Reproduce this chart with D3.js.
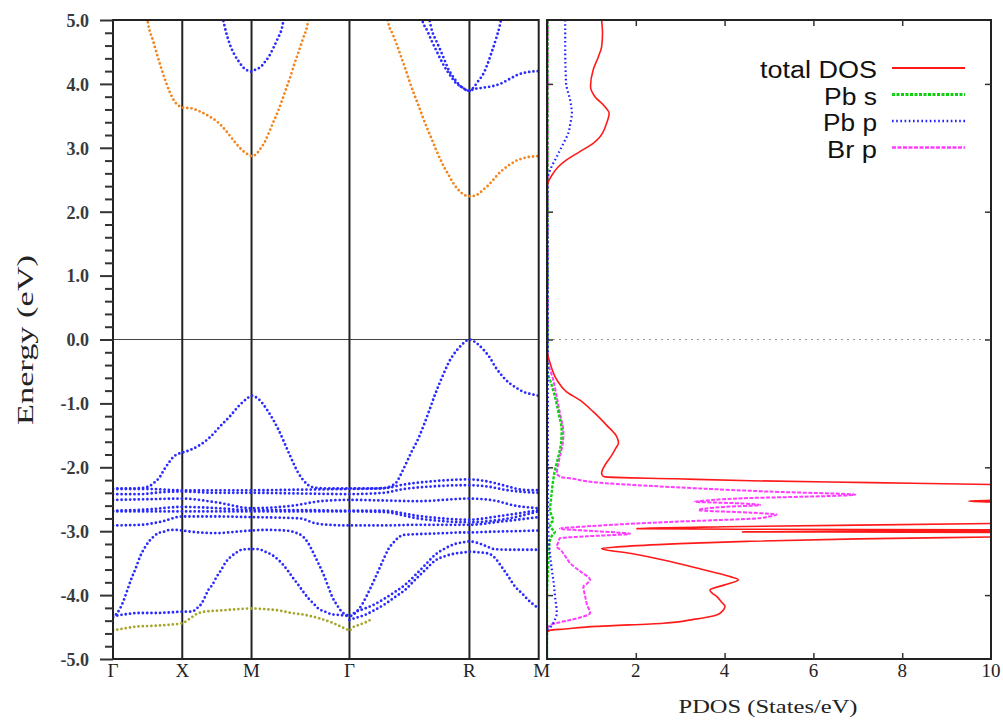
<!DOCTYPE html>
<html><head><meta charset="utf-8">
<script src="https://cdn.jsdelivr.net/npm/d3@7"></script>
<style>body{margin:0;background:#fff}svg{display:block}</style>
</head><body>
<svg id="chart" width="1003" height="720"></svg>
<script>
// ---------- data ----------
const kLabels = ["Γ","X","M","Γ","R","M"];
const kTicks = [0, 0.5, 1.0, 1.707, 2.573, 3.073];
const energyTicks = [5,4,3,2,1,0,-1,-2,-3,-4,-5];
const dosTicks = [2,4,6,8,10];
const legendNames = ["total DOS","Pb s","Pb p","Br p"];

// conduction bands [k, E]
const cbOrangeA = [[0.23,5.3],[0.255,4.92],[0.287,4.69],[0.318,4.46],[0.349,4.24],[0.38,4.04],[0.412,3.86],[0.443,3.73],[0.474,3.66],[0.5,3.63],[0.56,3.62],[0.626,3.57],[0.688,3.5],[0.751,3.41],[0.814,3.27],[0.876,3.1],[0.939,2.95],[0.97,2.9],[1.0,2.87],[1.038,2.91],[1.069,3.0],[1.1,3.11],[1.128,3.25],[1.157,3.4],[1.189,3.56],[1.218,3.73],[1.249,3.92],[1.28,4.11],[1.309,4.31],[1.341,4.51],[1.372,4.71],[1.401,4.9],[1.43,5.3]];
const cbOrangeB = [[1.96,5.4],[1.988,4.95],[2.019,4.78],[2.051,4.6],[2.082,4.41],[2.113,4.22],[2.142,4.03],[2.173,3.84],[2.204,3.67],[2.236,3.48],[2.267,3.31],[2.298,3.15],[2.33,2.98],[2.361,2.83],[2.392,2.69],[2.424,2.57],[2.455,2.45],[2.486,2.36],[2.518,2.29],[2.549,2.25],[2.573,2.24],[2.609,2.25],[2.64,2.28],[2.671,2.34],[2.703,2.4],[2.734,2.47],[2.765,2.55],[2.796,2.62],[2.828,2.68],[2.859,2.73],[2.89,2.77],[2.922,2.81],[2.953,2.83],[2.984,2.85],[3.016,2.86],[3.073,2.87]];
const cbBlueM = [[0.79,5.05],[0.816,4.81],[0.845,4.61],[0.876,4.46],[0.908,4.35],[0.939,4.26],[0.97,4.21],[1.0,4.19],[1.033,4.23],[1.064,4.26],[1.095,4.34],[1.126,4.43],[1.157,4.56],[1.189,4.71],[1.22,4.88],[1.235,5.05]];
const cbBlueR1 = [[2.22,5.1],[2.233,4.99],[2.269,4.83],[2.301,4.67],[2.332,4.53],[2.361,4.4],[2.39,4.28],[2.419,4.18],[2.448,4.09],[2.476,4.01],[2.513,3.96],[2.542,3.91],[2.573,3.89],[2.605,3.95],[2.638,4.05],[2.669,4.14],[2.7,4.29],[2.731,4.48],[2.763,4.69],[2.794,4.93],[2.81,5.1]];
const cbBlueR2 = [[2.28,5.05],[2.303,4.83],[2.334,4.67],[2.363,4.53],[2.392,4.38],[2.421,4.23],[2.453,4.12],[2.482,4.03],[2.51,3.96],[2.549,3.91],[2.573,3.89],[2.605,3.92],[2.638,3.93],[2.669,3.94],[2.731,3.96],[2.794,4.0],[2.857,4.07],[2.919,4.14],[2.982,4.18],[3.073,4.2]];

// valence bands [k, E]
const vbTop = [[0,-2.33],[0.15,-2.33],[0.22,-2.32],[0.267,-2.29],[0.303,-2.23],[0.339,-2.15],[0.368,-2.04],[0.399,-1.94],[0.435,-1.84],[0.471,-1.79],[0.5,-1.77],[0.556,-1.73],[0.628,-1.65],[0.7,-1.53],[0.773,-1.36],[0.845,-1.2],[0.917,-1.02],[0.97,-0.92],[1.0,-0.88],[1.049,-0.93],[1.121,-1.13],[1.194,-1.41],[1.266,-1.76],[1.338,-2.09],[1.41,-2.28],[1.46,-2.32],[1.55,-2.33],[1.707,-2.33],[1.9,-2.33],[1.97,-2.32],[2.012,-2.29],[2.048,-2.23],[2.085,-2.08],[2.12,-1.92],[2.157,-1.75],[2.204,-1.55],[2.24,-1.36],[2.28,-1.13],[2.325,-0.86],[2.36,-0.67],[2.39,-0.52],[2.421,-0.37],[2.457,-0.24],[2.493,-0.14],[2.529,-0.06],[2.573,0.0],[2.626,-0.06],[2.674,-0.16],[2.722,-0.29],[2.76,-0.43],[2.794,-0.53],[2.83,-0.62],[2.866,-0.69],[2.914,-0.76],[2.962,-0.82],[3.01,-0.85],[3.073,-0.88]];
const vbM1 = [[0,-2.34],[0.25,-2.34],[0.5,-2.36],[0.75,-2.36],[1.0,-2.36],[1.35,-2.35],[1.707,-2.34],[1.95,-2.33],[2.1,-2.27],[2.3,-2.22],[2.573,-2.19],[2.7,-2.22],[2.85,-2.3],[2.95,-2.35],[3.073,-2.36]];
const vbM2 = [[0,-2.42],[0.2,-2.42],[0.35,-2.39],[0.5,-2.38],[0.75,-2.4],[1.0,-2.4],[1.35,-2.41],[1.707,-2.42],[1.95,-2.4],[2.1,-2.34],[2.3,-2.3],[2.573,-2.28],[2.7,-2.3],[2.85,-2.36],[3.073,-2.4]];
const vbM3 = [[0,-2.51],[0.25,-2.5],[0.5,-2.49],[0.75,-2.55],[1.0,-2.64],[1.3,-2.6],[1.5,-2.53],[1.707,-2.51],[1.95,-2.52],[2.2,-2.53],[2.573,-2.49],[2.75,-2.52],[2.9,-2.6],[3.073,-2.64]];
const vbM4 = [[0,-2.68],[0.25,-2.66],[0.5,-2.62],[0.75,-2.64],[1.0,-2.67],[1.35,-2.67],[1.707,-2.68],[1.95,-2.68],[2.2,-2.76],[2.573,-2.82],[2.8,-2.76],[3.073,-2.67]];
const vbM5 = [[0,-2.69],[0.25,-2.69],[0.5,-2.69],[0.75,-2.69],[1.0,-2.69],[1.35,-2.69],[1.707,-2.69],[1.95,-2.7],[2.2,-2.8],[2.573,-2.86],[2.8,-2.82],[3.073,-2.69]];
const vbM6 = [[0,-2.91],[0.2,-2.9],[0.35,-2.85],[0.5,-2.77],[0.75,-2.77],[1.0,-2.78],[1.35,-2.8],[1.45,-2.87],[1.55,-2.9],[1.707,-2.91],[1.95,-2.91],[2.2,-2.9],[2.573,-2.9],[2.8,-2.85],[3.073,-2.78]];
const vbLowB = [[0,-4.35],[0.051,-4.21],[0.074,-4.1],[0.099,-3.95],[0.13,-3.76],[0.164,-3.58],[0.195,-3.4],[0.226,-3.27],[0.26,-3.16],[0.291,-3.09],[0.327,-3.03],[0.364,-3.01],[0.412,-2.98],[0.46,-2.98],[0.5,-2.99],[0.62,-3.02],[0.75,-3.03],[0.88,-3.01],[1.0,-2.99],[1.12,-2.98],[1.242,-2.99],[1.314,-3.02],[1.374,-3.09],[1.41,-3.19],[1.435,-3.29],[1.464,-3.42],[1.495,-3.56],[1.526,-3.71],[1.554,-3.87],[1.583,-4.03],[1.615,-4.15],[1.651,-4.26],[1.687,-4.31],[1.707,-4.33],[1.771,-4.23],[1.8,-4.14],[1.832,-4.01],[1.863,-3.87],[1.897,-3.71],[1.928,-3.56],[1.959,-3.41],[1.988,-3.28],[2.024,-3.18],[2.06,-3.1],[2.096,-3.06],[2.157,-3.05],[2.276,-3.04],[2.397,-3.03],[2.518,-3.02],[2.573,-3.02],[2.7,-3.01],[2.9,-3.0],[3.073,-2.99]];
const vbLowC = [[0,-4.33],[0.09,-4.3],[0.18,-4.28],[0.3,-4.28],[0.42,-4.27],[0.5,-4.26],[0.568,-4.26],[0.604,-4.21],[0.64,-4.13],[0.664,-4.03],[0.688,-3.92],[0.717,-3.84],[0.749,-3.71],[0.78,-3.61],[0.809,-3.5],[0.845,-3.41],[0.881,-3.35],[0.929,-3.29],[0.977,-3.28],[1.0,-3.28],[1.049,-3.28],[1.097,-3.32],[1.146,-3.37],[1.194,-3.45],[1.23,-3.53],[1.266,-3.63],[1.302,-3.74],[1.338,-3.84],[1.374,-3.95],[1.41,-4.05],[1.446,-4.13],[1.482,-4.21],[1.531,-4.26],[1.579,-4.3],[1.627,-4.31],[1.675,-4.32],[1.707,-4.33],[1.747,-4.27],[1.819,-4.21],[1.892,-4.14],[1.964,-4.05],[2.036,-3.95],[2.108,-3.84],[2.181,-3.69],[2.253,-3.53],[2.325,-3.37],[2.397,-3.27],[2.469,-3.2],[2.542,-3.17],[2.573,-3.16],[2.626,-3.18],[2.7,-3.24],[2.75,-3.28],[2.85,-3.29],[3.073,-3.29]];
const vbLowE = [[1.707,-4.39],[1.747,-4.36],[1.819,-4.31],[1.892,-4.23],[1.964,-4.14],[2.036,-4.03],[2.108,-3.92],[2.181,-3.76],[2.253,-3.61],[2.325,-3.46],[2.397,-3.39],[2.469,-3.35],[2.542,-3.33],[2.573,-3.32],[2.638,-3.33],[2.71,-3.35],[2.758,-3.42],[2.806,-3.56],[2.854,-3.71],[2.903,-3.87],[2.951,-3.97],[2.999,-4.08],[3.073,-4.21]];
const vbOlive = [[0,-4.55],[0.087,-4.52],[0.183,-4.49],[0.303,-4.48],[0.424,-4.46],[0.5,-4.44],[0.56,-4.36],[0.6,-4.3],[0.66,-4.26],[0.78,-4.24],[0.9,-4.22],[1.0,-4.21],[1.097,-4.22],[1.194,-4.24],[1.29,-4.28],[1.386,-4.31],[1.482,-4.36],[1.579,-4.43],[1.651,-4.5],[1.69,-4.54],[1.707,-4.56],[1.723,-4.52],[1.771,-4.47],[1.819,-4.43],[1.856,-4.39]];

// DOS curves [E, states/eV]
const dosTotal = [[5.0,1.23],[4.79,1.25],[4.58,1.23],[4.43,1.16],[4.22,1.04],[3.96,0.98],[3.8,1.08],[3.64,1.31],[3.54,1.4],[3.38,1.34],[3.17,1.19],[3.07,1.04],[2.94,0.74],[2.81,0.44],[2.7,0.25],[2.57,0.11],[2.47,0.03],[2.39,0.0],[-0.16,0.0],[-0.37,0.07],[-0.63,0.22],[-0.82,0.44],[-0.95,0.74],[-1.13,1.04],[-1.34,1.34],[-1.52,1.57],[-1.62,1.61],[-1.7,1.55],[-1.81,1.46],[-1.96,1.31],[-2.09,1.23],[-2.13,1.25],[-2.15,1.31],[-2.18,2.9],[-2.21,4.6],[-2.24,7.3],[-2.27,10.0],[-2.35,15],[-2.45,15],[-2.51,10.5],[-2.53,9.5],[-2.55,10.5],[-2.7,15],[-2.85,12],[-2.88,10],[-2.93,4.0],[-2.96,2.02],[-2.97,5.0],[-2.98,10],[-2.99,12],[-3.0,8.0],[-3.01,4.4],[-3.015,8.0],[-3.02,10],[-3.05,14],[-3.08,11],[-3.09,10],[-3.12,7.0],[-3.16,4.5],[-3.21,2.5],[-3.25,1.5],[-3.27,1.23],[-3.35,1.9],[-3.45,2.62],[-3.58,3.4],[-3.71,4.12],[-3.76,4.31],[-3.84,4.0],[-3.92,3.67],[-3.97,3.72],[-4.02,3.82],[-4.1,3.92],[-4.18,4.01],[-4.25,3.95],[-4.31,3.82],[-4.38,3.3],[-4.44,2.62],[-4.49,1.12],[-4.53,0.4],[-4.55,0.07],[-4.59,0.0],[-5.0,0.0]];
const dosPbS = [[5.0,0.01],[-0.48,0.01],[-0.7,0.1],[-0.9,0.18],[-1.15,0.26],[-1.42,0.33],[-1.6,0.32],[-1.73,0.29],[-1.9,0.23],[-2.04,0.18],[-2.2,0.14],[-2.36,0.11],[-2.5,0.09],[-2.67,0.07],[-2.75,0.1],[-2.83,0.14],[-2.88,0.08],[-2.93,0.07],[-2.97,0.12],[-3.01,0.18],[-3.06,0.12],[-3.14,0.07],[-3.3,0.04],[-3.5,0.03],[-4.02,0.0],[-5.0,0.0]];
const dosPbP = [[5.0,0.41],[4.95,0.41],[4.53,0.41],[4.01,0.43],[3.75,0.52],[3.54,0.56],[3.4,0.53],[3.23,0.48],[3.07,0.37],[2.86,0.22],[2.65,0.07],[2.5,0.01],[-0.3,0.02],[-2.0,0.02],[-3.0,0.03],[-3.3,0.06],[-3.61,0.11],[-3.8,0.15],[-4.02,0.18],[-4.28,0.22],[-4.38,0.18],[-4.44,0.14],[-4.55,0.03],[-4.6,0.0],[-5.0,0.0]];
const dosBrP = [[5.0,0.02],[-0.32,0.02],[-0.63,0.14],[-0.9,0.22],[-1.15,0.29],[-1.47,0.37],[-1.65,0.35],[-1.83,0.29],[-2.0,0.24],[-2.09,0.22],[-2.15,0.3],[-2.18,0.59],[-2.22,0.9],[-2.25,1.34],[-2.29,2.3],[-2.33,3.4],[-2.38,5.0],[-2.43,6.94],[-2.46,5.8],[-2.48,4.6],[-2.52,3.6],[-2.54,3.33],[-2.56,4.2],[-2.59,4.8],[-2.62,4.0],[-2.67,3.41],[-2.71,4.6],[-2.74,5.17],[-2.77,5.0],[-2.8,4.72],[-2.84,3.3],[-2.88,2.0],[-2.92,1.0],[-2.96,0.29],[-3.0,1.1],[-3.04,1.87],[-3.08,0.9],[-3.11,0.29],[-3.18,0.25],[-3.24,0.22],[-3.29,0.3],[-3.4,0.42],[-3.5,0.52],[-3.63,0.75],[-3.76,0.97],[-3.82,0.9],[-3.87,0.82],[-4.02,0.86],[-4.15,0.9],[-4.28,0.97],[-4.34,0.8],[-4.39,0.52],[-4.44,0.2],[-4.47,0.07],[-4.55,0.0],[-5.0,0.0]];

// ---------- drawing ----------
const svg = d3.select("#chart");
const L = {x0:113, x1:538.7, y0:20, y1:659, dx0:547, dx1:991};
const yE = d3.scaleLinear().domain([-5,5]).range([L.y1, L.y0]);
const xK = d3.scaleLinear().domain([0,3.073]).range([L.x0, L.x1]);
const xD = d3.scaleLinear().domain([0,10]).range([L.dx0, L.dx1]);
const serif = "'Liberation Serif','DejaVu Serif',serif";
const sans = "'Liberation Sans',Arial,sans-serif";

const defs = svg.append("defs");
defs.append("clipPath").attr("id","clipBand").append("rect")
  .attr("x",L.x0).attr("y",L.y0).attr("width",L.x1-L.x0).attr("height",L.y1-L.y0);
defs.append("clipPath").attr("id","clipDos").append("rect")
  .attr("x",L.dx0).attr("y",L.y0).attr("width",L.dx1-L.dx0).attr("height",L.y1-L.y0);

// zero lines
svg.append("line").attr("x1",L.x0).attr("x2",L.x1).attr("y1",yE(0)).attr("y2",yE(0))
  .attr("stroke","#444").attr("stroke-width",1);
svg.append("line").attr("x1",L.dx0).attr("x2",L.dx1).attr("y1",yE(0)).attr("y2",yE(0))
  .attr("stroke","#999").attr("stroke-width",1.2).attr("stroke-dasharray","2 4");

// high-symmetry vertical lines
svg.append("g").selectAll("line").data(kTicks.slice(1,5)).join("line")
  .attr("x1",d=>xK(d)).attr("x2",d=>xK(d)).attr("y1",L.y0).attr("y2",L.y1)
  .attr("stroke","#222").attr("stroke-width",2);

// bands
const bandLine = d3.line().x(d=>xK(d[0])).y(d=>yE(d[1])).curve(d3.curveMonotoneX);
const bandSets = [
  {data:[vbTop,vbM1,vbM2,vbM3,vbM4,vbM5,vbM6,vbLowB,vbLowC,vbLowE,cbBlueM,cbBlueR1,cbBlueR2], color:"#2a2aff"},
  {data:[vbOlive], color:"#a6a62c"},
  {data:[cbOrangeA,cbOrangeB], color:"#f4841c"}
];
const gb = svg.append("g").attr("clip-path","url(#clipBand)");
bandSets.forEach(s=>{
  gb.append("g").selectAll("path").data(s.data).join("path")
    .attr("d",bandLine).attr("fill","none").attr("stroke",s.color)
    .attr("stroke-width",2.8).attr("stroke-linecap","round").attr("stroke-dasharray","0 4.3");
});

// DOS curves (keyed by legend name)
const dosLine = d3.line().x(d=>xD(d[1])).y(d=>yE(d[0])).curve(d3.curveMonotoneY);
const dosSets = {
  "Br p":      {data:dosBrP,  color:"#ff3cff", w:2,   dash:"4 1.5"},
  "Pb s":      {data:dosPbS,  color:"#10d010", w:2.4, dash:"3 1.5"},
  "Pb p":      {data:dosPbP,  color:"#2020ff", w:2.2, dash:"1.6 2.6"},
  "total DOS": {data:dosTotal,color:"#ff1a1a", w:1.6, dash:null}
};
const gd = svg.append("g").attr("clip-path","url(#clipDos)");
["Br p","Pb s","Pb p","total DOS"].forEach(name=>{
  const s = dosSets[name];
  gd.append("path").datum(s.data).attr("d",dosLine).attr("fill","none")
    .attr("stroke",s.color).attr("stroke-width",s.w)
    .attr("stroke-dasharray",s.dash).attr("stroke-linejoin","round");
});

// frames
[[L.x0,L.x1],[L.dx0,L.dx1]].forEach(([a,b])=>{
  svg.append("rect").attr("x",a).attr("y",L.y0).attr("width",b-a).attr("height",L.y1-L.y0)
    .attr("fill","none").attr("stroke","#222").attr("stroke-width",2);
});

// left energy axis (major + minor)
const minor = d3.range(-50,51,2).filter(v=>v%10!==0).map(v=>v/10);
svg.append("g").attr("transform",`translate(${L.x0},0)`)
  .call(d3.axisLeft(yE).tickValues(minor).tickSize(8).tickFormat(""))
  .call(g=>g.select(".domain").remove())
  .call(g=>g.selectAll("line").attr("stroke","#333").attr("stroke-width",2));
svg.append("g").attr("transform",`translate(${L.x0},0)`)
  .call(d3.axisLeft(yE).tickValues(energyTicks).tickSize(13).tickPadding(11).tickFormat(d=>d.toFixed(1)))
  .call(g=>g.select(".domain").remove())
  .call(g=>g.selectAll("line").attr("stroke","#333").attr("stroke-width",2))
  .call(g=>g.selectAll("text").attr("font-family",serif).attr("font-size",18)
     .attr("fill","#3a3a3a").attr("font-weight","bold").attr("dy","0.35em"));

// DOS panel inner ticks (y every 2 eV, x every 2)
const dosYT = [4,2,0,-2,-4];
svg.append("g").attr("transform",`translate(${L.dx0},0)`)
  .call(d3.axisLeft(yE).tickValues(dosYT).tickSize(-6).tickFormat(""))
  .call(g=>g.select(".domain").remove()).call(g=>g.selectAll("line").attr("stroke","#333").attr("stroke-width",1.5));
svg.append("g").attr("transform",`translate(${L.dx1},0)`)
  .call(d3.axisRight(yE).tickValues(dosYT).tickSize(-6).tickFormat(""))
  .call(g=>g.select(".domain").remove()).call(g=>g.selectAll("line").attr("stroke","#333").attr("stroke-width",1.5));
svg.append("g").attr("transform",`translate(0,${L.y0})`)
  .call(d3.axisTop(xD).tickValues(dosTicks.slice(0,4)).tickSize(-6).tickFormat(""))
  .call(g=>g.select(".domain").remove()).call(g=>g.selectAll("line").attr("stroke","#333").attr("stroke-width",1.5));
svg.append("g").attr("transform",`translate(0,${L.y1})`)
  .call(d3.axisBottom(xD).tickValues(dosTicks.slice(0,4)).tickSize(-6).tickFormat(""))
  .call(g=>g.select(".domain").remove()).call(g=>g.selectAll("line").attr("stroke","#333").attr("stroke-width",1.5));

// bottom labels
svg.append("g").selectAll("text").data(kTicks).join("text")
  .attr("x",(d,i)=>xK(d)+(i===5?3:0)).attr("y",677).attr("text-anchor","middle")
  .attr("font-family",serif).attr("font-size",19).attr("fill","#222")
  .text((d,i)=>kLabels[i]);
svg.append("g").selectAll("text").data(dosTicks).join("text")
  .attr("x",d=>xD(d)).attr("y",677).attr("text-anchor","middle")
  .attr("font-family",serif).attr("font-size",19).attr("fill","#222")
  .text(d=>d);

// axis titles
svg.append("text").attr("x",768).attr("y",713).attr("text-anchor","middle")
  .attr("font-family",serif).attr("font-size",19).attr("fill","#222")
  .attr("textLength",179).attr("lengthAdjust","spacingAndGlyphs").text("PDOS (States/eV)");
svg.append("text").attr("transform","translate(33,340) rotate(-90)").attr("text-anchor","middle")
  .attr("font-family",serif).attr("font-size",24).attr("fill","#222")
  .attr("textLength",170).attr("lengthAdjust","spacingAndGlyphs").text("Energy (eV)");

// legend
const legY = [78,104.5,131,157.5];
const legW = [117,53,54,50];
const gl = svg.append("g");
legendNames.forEach((name,i)=>{
  const s = dosSets[name];
  gl.append("text").attr("x",877).attr("y",legY[i]).attr("text-anchor","end")
    .attr("font-family",sans).attr("font-size",23).attr("fill","#111")
    .attr("textLength",legW[i]).attr("lengthAdjust","spacingAndGlyphs").text(name);
  gl.append("line").attr("x1",892).attr("x2",965).attr("y1",legY[i]-10).attr("y2",legY[i]-10)
    .attr("stroke",s.color).attr("stroke-width",s.w+0.4).attr("stroke-dasharray",s.dash);
});
</script>
</body></html>
